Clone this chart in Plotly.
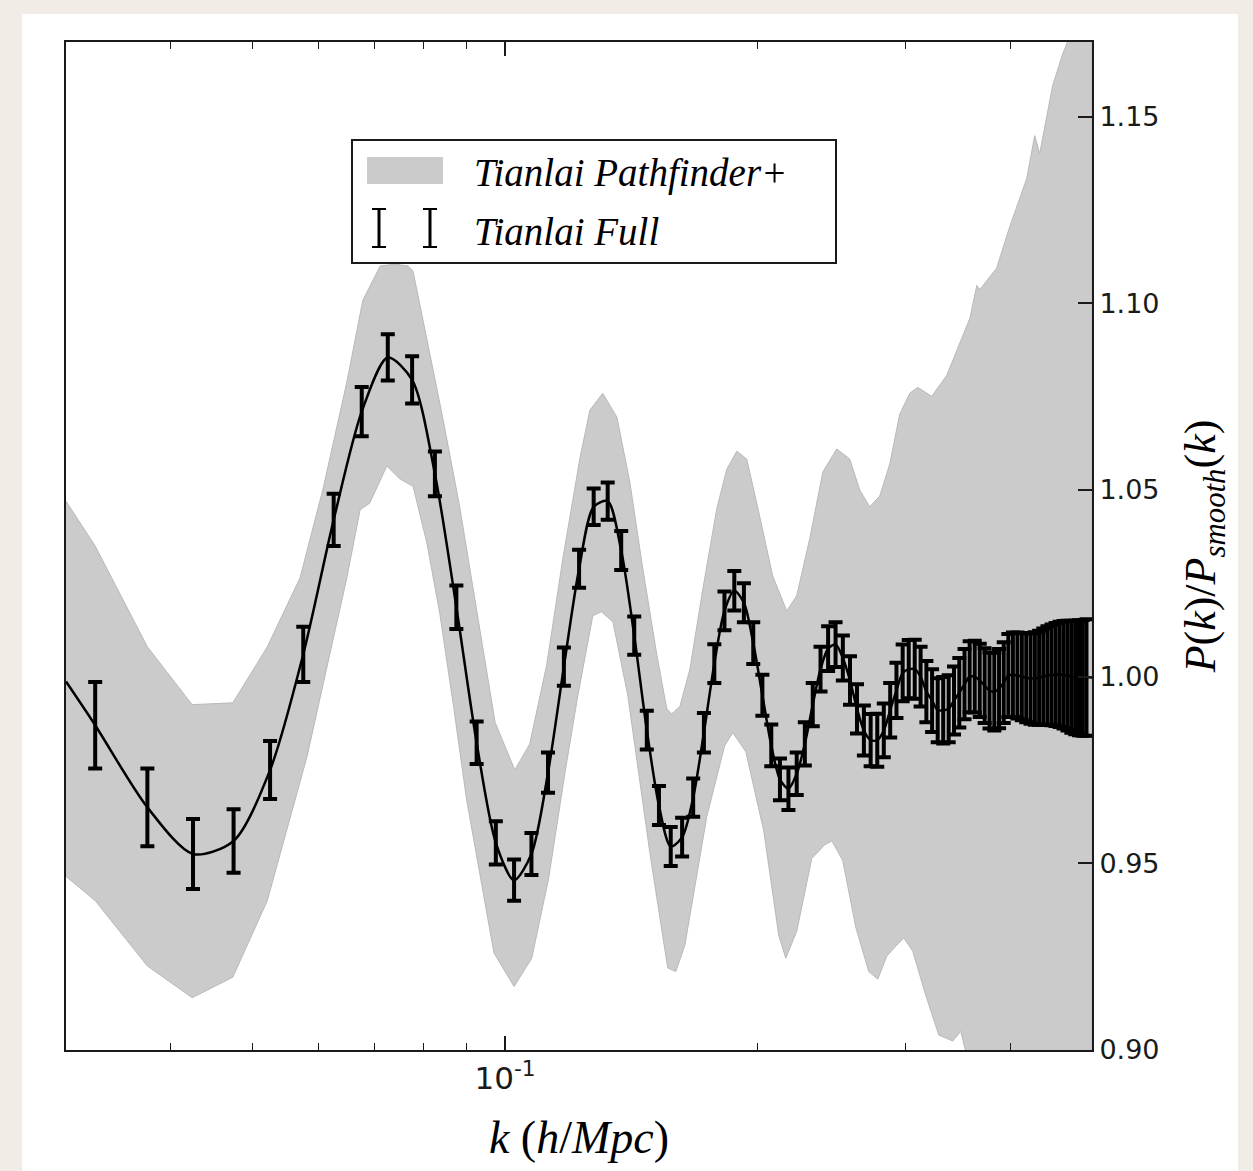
import numpy as np
import plotly.graph_objects as go

# ---------------- data ----------------
# Tianlai Full: bin centres, P(k)/P_smooth(k) and 1-sigma errors
k_bins = [0.0325, 0.0375, 0.0425, 0.0475, 0.0525, 0.0575, 0.0625, 0.0675, 0.0725, 0.0775,
          0.0825, 0.0875, 0.0925, 0.0975, 0.1025, 0.1075, 0.1125, 0.1175, 0.1225, 0.1275,
          0.1325, 0.1375, 0.1425, 0.1475, 0.1525, 0.1575, 0.1625, 0.1675, 0.1725, 0.1775,
          0.1825, 0.1875, 0.1925, 0.1975, 0.2025, 0.2075, 0.2125, 0.2175, 0.2225, 0.2275,
          0.2325, 0.2375, 0.2425, 0.2475, 0.2525, 0.2575, 0.2625, 0.2675, 0.2725, 0.2775,
          0.2825, 0.2875, 0.2925, 0.2975, 0.3025, 0.3075, 0.3125, 0.3175, 0.3225, 0.3275,
          0.3325, 0.3375, 0.3425, 0.3475, 0.3525, 0.3575, 0.3625, 0.3675, 0.3725, 0.3775,
          0.3825, 0.3875, 0.3925, 0.3975, 0.4025, 0.4075, 0.4125, 0.4175, 0.4225, 0.4275,
          0.4325, 0.4375, 0.4425, 0.4475, 0.4525, 0.4575, 0.4625, 0.4675, 0.4725, 0.4775,
          0.4825, 0.4875, 0.4925]

ratio = [0.987, 0.965, 0.9525, 0.956, 0.975, 1.006, 1.042, 1.071, 1.0855, 1.0795,
         1.0543, 1.0186, 0.9823, 0.9555, 0.9455, 0.9525, 0.9743, 1.0027, 1.0289, 1.0455,
         1.047, 1.0338, 1.011, 0.9857, 0.9655, 0.9545, 0.957, 0.9676, 0.985, 1.0035,
         1.0176, 1.023, 1.0198, 1.009, 0.995, 0.9816, 0.9725, 0.970, 0.974, 0.982,
         0.9925, 1.002, 1.0075, 1.0086, 1.005, 0.999, 0.9914, 0.9856, 0.983, 0.983,
         0.9856, 0.991, 0.9963, 1.001, 1.002, 1.002, 1.000, 0.996, 0.9936, 0.991,
         0.991, 0.9914, 0.9936, 0.9957, 0.998, 1.000, 1.000, 0.999, 0.9976, 0.9963,
         0.996, 0.9968, 0.9984, 1.0003, 1.0005, 1.0003, 1.000, 0.9997, 0.9995, 0.9995,
         0.9997, 1.000, 1.0003, 1.0005, 1.0006, 1.0006, 1.0005, 1.0003, 1.000, 0.9998,
         0.9997, 0.9997, 0.9998]

err_full = [0.0116, 0.0104, 0.0094, 0.0085, 0.0078, 0.0074, 0.0070, 0.0066, 0.0062, 0.0063,
            0.0060, 0.0058, 0.0057, 0.0058, 0.0055, 0.0056, 0.0054, 0.0051, 0.0051, 0.0049,
            0.0050, 0.0052, 0.0051, 0.0052, 0.0052, 0.0052, 0.0052, 0.0051, 0.0053, 0.0052,
            0.0052, 0.0053, 0.0052, 0.0056, 0.0055, 0.0056, 0.0056, 0.0057, 0.0057, 0.0058,
            0.0058, 0.0060, 0.0060, 0.0060, 0.0060, 0.0065, 0.0066, 0.0067, 0.0070, 0.0071,
            0.0072, 0.0073, 0.0074, 0.0076, 0.0078, 0.0079, 0.0080, 0.0082, 0.0084, 0.0086,
            0.0089, 0.0090, 0.0091, 0.0093, 0.0094, 0.0095, 0.0096, 0.0098, 0.0100, 0.0102,
            0.0104, 0.0106, 0.0108, 0.0111, 0.0113, 0.0115, 0.0117, 0.0119, 0.0121, 0.0124,
            0.0126, 0.0129, 0.0132, 0.0135, 0.0138, 0.0141, 0.0144, 0.0147, 0.0150, 0.0152,
            0.0154, 0.0155, 0.0156]

# model curve end points (curve runs edge to edge)
curve_start = (0.030, 0.9987)
curve_end = (0.500, 0.9998)

# Tianlai Pathfinder+ band: upper and lower edges
band_upper_k = [0.0300, 0.0325, 0.0375, 0.0424, 0.0474, 0.0521, 0.0570, 0.0607, 0.0648, 0.0677,
                0.0710, 0.0739, 0.0766, 0.0777, 0.0807, 0.0843, 0.0883, 0.0926, 0.0973, 0.1027,
                0.1070, 0.1121, 0.1172, 0.1228, 0.1262, 0.1307, 0.1359, 0.1408, 0.1459, 0.1516,
                0.1558, 0.1579, 0.1615, 0.1660, 0.1720, 0.1787, 0.1837, 0.1888, 0.1940, 0.2010,
                0.2083, 0.2165, 0.2225, 0.2306, 0.2390, 0.2483, 0.2573, 0.2645, 0.2718, 0.2794,
                0.2872, 0.2951, 0.3033, 0.3100, 0.3222, 0.3357, 0.3480, 0.3577, 0.3646, 0.3676,
                0.3849, 0.3991, 0.4180, 0.4273, 0.4332, 0.4488, 0.4614, 0.4770, 0.5000]
band_upper = [1.047, 1.035, 1.008, 0.9925, 0.993, 1.008, 1.0265, 1.0503, 1.0789, 1.1008,
              1.110, 1.1105, 1.110, 1.1086, 1.0904, 1.0693, 1.0455, 1.017, 0.9878, 0.975,
              0.982, 1.0032, 1.0318, 1.0586, 1.0714, 1.0759, 1.0695, 1.0521, 1.0289, 1.0059,
              0.9914, 0.990, 0.992, 1.002, 1.0235, 1.045, 1.0556, 1.0604, 1.0583, 1.043,
              1.027, 1.0176, 1.0217, 1.037, 1.0548, 1.061, 1.0583, 1.050, 1.0455, 1.0484,
              1.057, 1.0703, 1.0759, 1.0775, 1.0751, 1.0807, 1.0893, 1.096, 1.1048, 1.1037,
              1.1094, 1.1206, 1.1334, 1.1449, 1.1401, 1.1583, 1.1668, 1.175, 1.180]

band_lower_k = [0.0300, 0.0325, 0.0375, 0.0424, 0.0474, 0.0521, 0.0581, 0.0614, 0.0648, 0.0672,
                0.0690, 0.0723, 0.0749, 0.0777, 0.0807, 0.0836, 0.0867, 0.0900, 0.0970, 0.1025,
                0.1076, 0.1127, 0.1178, 0.1221, 0.1272, 0.1302, 0.1344, 0.1400, 0.1487, 0.1562,
                0.1597, 0.1637, 0.1739, 0.1826, 0.1867, 0.1935, 0.2033, 0.2118, 0.2159, 0.2225,
                0.2319, 0.2403, 0.2450, 0.2524, 0.2616, 0.2711, 0.2779, 0.2848, 0.2919, 0.2984,
                0.3058, 0.3169, 0.3285, 0.3413, 0.3489, 0.3577, 0.3727, 0.5000]
band_lower = [0.9465, 0.940, 0.9225, 0.914, 0.9195, 0.940, 0.9786, 1.0024, 1.0265, 1.0447,
              1.0465, 1.0564, 1.053, 1.051, 1.0358, 1.017, 0.993, 0.967, 0.926, 0.917,
              0.9246, 0.946, 0.974, 0.995, 1.0163, 1.0174, 1.0147, 0.995, 0.953, 0.922,
              0.921, 0.928, 0.9626, 0.9815, 0.985, 0.9799, 0.9586, 0.9307, 0.9246, 0.9318,
              0.9513, 0.955, 0.956, 0.9508, 0.9329, 0.921, 0.919, 0.9251, 0.9278, 0.930,
              0.9265, 0.9147, 0.904, 0.9024, 0.905, 0.895, 0.875, 0.820]

x_major_vals = [0.1]
x_major_text = ["10<sup>-1</sup>"]
x_minor_vals = [0.04, 0.05, 0.06, 0.07, 0.08, 0.09, 0.2, 0.3, 0.4]
y_tick_vals = [0.90, 0.95, 1.00, 1.05, 1.10, 1.15]

legend_labels = ["Tianlai Pathfinder+", "Tianlai Full"]

# ---------------- figure ----------------
W, H = 1253, 1171
L, R, T, B = 66, 161, 42, 121
pw, ph = W - L - R, H - T - B


def px2paper(px, py):
    return (px - L) / pw, (H - B - py) / ph


AX = "#1a1a1a"
FILL = "#cbcbcb"
SERIF = "Liberation Serif"

fig = go.Figure()

band_x = band_upper_k + band_lower_k[::-1]
band_y = band_upper + band_lower[::-1]
fig.add_trace(go.Scatter(x=band_x, y=band_y, mode="lines", fill="toself",
                         fillcolor=FILL, line=dict(color="#b9b9b9", width=1),
                         hoverinfo="skip", showlegend=False))

line_x = [curve_start[0]] + k_bins + [curve_end[0]]
line_y = [curve_start[1]] + ratio + [curve_end[1]]
fig.add_trace(go.Scatter(x=line_x, y=line_y, mode="lines",
                         line=dict(color="black", width=2.5, shape="spline", smoothing=0.8),
                         showlegend=False))

fig.add_trace(go.Scatter(x=k_bins, y=ratio, mode="markers",
                         marker=dict(size=2, color="black"),
                         error_y=dict(type="data", array=err_full, color="black",
                                      thickness=4, width=7),
                         showlegend=False))

shapes = []
# white page behind the figure
x0, y0 = px2paper(22, 1185)
x1, y1 = px2paper(1238, 14)
shapes.append(dict(type="rect", xref="paper", yref="paper", x0=x0, y0=y0, x1=x1, y1=y1,
                   fillcolor="white", line=dict(width=0), layer="below"))

# legend box
lx0, ly0 = px2paper(352, 263)
lx1, ly1 = px2paper(836, 140)
shapes.append(dict(type="rect", xref="paper", yref="paper", x0=lx0, y0=ly0, x1=lx1, y1=ly1,
                   fillcolor="white", line=dict(color=AX, width=2), layer="above"))
sx0, sy0 = px2paper(367, 184)
sx1, sy1 = px2paper(443, 157)
shapes.append(dict(type="rect", xref="paper", yref="paper", x0=sx0, y0=sy0, x1=sx1, y1=sy1,
                   fillcolor=FILL, line=dict(width=0), layer="above"))
for cx in (379, 430):
    ax_, ay_top = px2paper(cx, 209)
    _, ay_bot = px2paper(cx, 247)
    cl, _ = px2paper(cx - 7, 0)
    cr, _ = px2paper(cx + 7, 0)
    shapes.append(dict(type="line", xref="paper", yref="paper", x0=ax_, x1=ax_, y0=ay_bot, y1=ay_top,
                       line=dict(color="black", width=3), layer="above"))
    for yy in (ay_top, ay_bot):
        shapes.append(dict(type="line", xref="paper", yref="paper", x0=cl, x1=cr, y0=yy, y1=yy,
                           line=dict(color="black", width=2), layer="above"))

annotations = []
tx, ty1 = px2paper(472, 173)
_, ty2 = px2paper(472, 231)
for lab, yy in zip(legend_labels, (ty1, ty2)):
    annotations.append(dict(xref="paper", yref="paper", x=tx, y=yy, xanchor="left", yanchor="middle",
                            text="<i>" + lab + "</i>", showarrow=False,
                            font=dict(family=SERIF, size=39, color="black")))

fig.update_layout(
    template="none",
    width=W, height=H,
    margin=dict(l=L, r=R, t=T, b=B),
    paper_bgcolor="#f1ede6",
    plot_bgcolor="white",
    showlegend=False,
    shapes=shapes,
    annotations=annotations,
    xaxis=dict(
        type="log", range=[np.log10(0.03), np.log10(0.5)],
        showline=True, linecolor=AX, linewidth=2, mirror="ticks",
        ticks="inside", ticklen=14, tickwidth=1.5, tickcolor=AX,
        tickvals=x_major_vals, ticktext=x_major_text,
        tickfont=dict(family="DejaVu Sans", size=31, color=AX),
        minor=dict(tickvals=x_minor_vals, ticks="inside", ticklen=7, tickwidth=1.2, tickcolor=AX),
        showgrid=False, zeroline=False, automargin=False,
        title=dict(text="<i>k</i> (<i>h</i>/<i>Mpc</i>)",
                   font=dict(family=SERIF, size=46, color="black"), standoff=26),
    ),
    yaxis=dict(
        side="right", range=[0.90, 1.17],
        showline=True, linecolor=AX, linewidth=2, mirror=True,
        ticks="inside", ticklen=14, tickwidth=1.5, tickcolor=AX,
        tickvals=y_tick_vals, tickformat=".2f",
        tickfont=dict(family="DejaVu Sans", size=27, color=AX),
        showgrid=False, zeroline=False, automargin=False,
        title=dict(text="<i>P</i>(<i>k</i>)/<i>P</i><sub><i>smooth</i></sub>(<i>k</i>)",
                   font=dict(family=SERIF, size=44, color="black"), standoff=26),
    ),
)

fig.write_html("out.html")
